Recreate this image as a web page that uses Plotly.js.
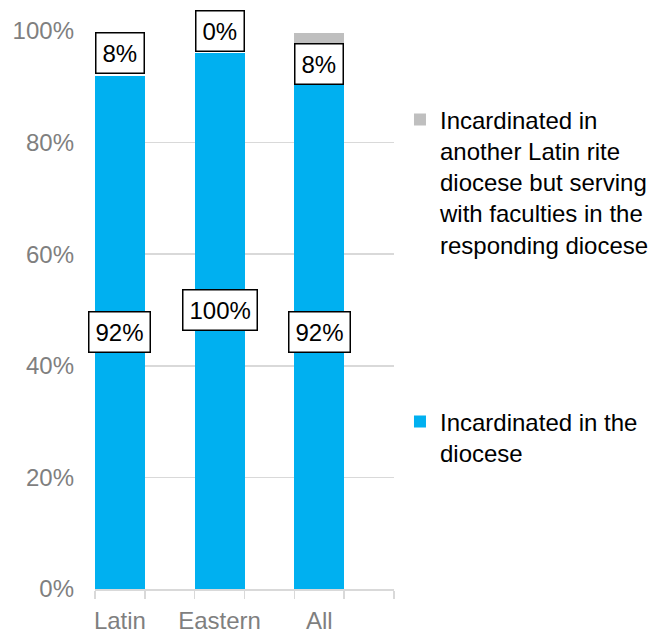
<!DOCTYPE html>
<html>
<head>
<meta charset="utf-8">
<script src="https://cdn.plot.ly/plotly-3.0.1.min.js"></script>
<style>html,body{margin:0;padding:0;background:#fff;}#chart{width:667px;height:637px;}</style>
</head>
<body>
<div id="chart"></div>
<script>
// ---- data ----
const categories = ['Latin', 'Eastern', 'All'];
const incardinated = [92, 96, 92];          // blue segment heights as drawn
const otherLatin = [0, 0, 7.7];             // grey segment heights as drawn
const incardinatedLabels = [92, 100, 92];   // data label values (%)
const otherLatinLabels = [8, 0, 8];         // data label values (%)
const seriesNames = [
  'Incardinated in the<br>diocese',
  'Incardinated in<br>another Latin rite<br>diocese but serving<br>with faculties in the<br>responding diocese'
];

const FONT = 'Liberation Sans, Arial, sans-serif';
const xs = categories.map((c, i) => i * 2);

const traces = [
  {type: 'bar', x: xs, y: incardinated, name: seriesNames[0], width: 1,
   marker: {color: '#00B0F0'}, legendgroup: 'a', legendrank: 2, hoverinfo: 'skip'},
  {type: 'bar', x: xs, y: otherLatin, name: seriesNames[1], width: 1,
   marker: {color: '#BFBFBF'}, legendgroup: 'b', legendrank: 1, hoverinfo: 'skip'}
];

const annotations = [];
const labelStyle = {showarrow: false, xref: 'x', yref: 'y',
  font: {family: FONT, size: 24, color: '#000'},
  bgcolor: '#fff', bordercolor: '#000', borderwidth: 1.5, borderpad: 6};
xs.forEach((x, i) => {
  annotations.push(Object.assign({}, labelStyle, {
    x: x, y: incardinatedLabels[i] / 2, text: incardinatedLabels[i] + '%'}));
  annotations.push(Object.assign({}, labelStyle, {
    x: x, y: incardinatedLabels[i] + otherLatinLabels[i] / 2,
    text: otherLatinLabels[i] + '%', yshift: i === 2 ? -11 : 0}));
});

const boundaries = [];
for (let v = -0.5; v <= 5.5; v += 1) boundaries.push(v);

const layout = {
  width: 667, height: 637,
  margin: {l: 95, r: 273, t: 31, b: 48},
  paper_bgcolor: '#fff', plot_bgcolor: '#fff',
  barmode: 'stack', bargap: 0,
  font: {family: FONT, size: 24, color: '#7F7F7F'},
  xaxis: {
    range: [-0.5, 5.5], tickvals: xs, ticktext: categories, ticks: '',
    showgrid: false, zeroline: false, showline: true, linecolor: '#D9D9D9', linewidth: 1.5,
    tickfont: {family: FONT, size: 24, color: '#7F7F7F'}, ticklabelstandoff: 10,
    minor: {tickvals: boundaries, ticks: 'outside', ticklen: 8, tickcolor: '#D9D9D9', tickwidth: 1.5, showgrid: false}
  },
  yaxis: {
    range: [0, 100], dtick: 20, ticksuffix: '%', showgrid: true, gridcolor: '#D9D9D9', gridwidth: 1.5,
    zeroline: false, showline: false, ticks: '',
    tickfont: {family: FONT, size: 24, color: '#7F7F7F'}, ticklabelstandoff: 20
  },
  showlegend: true,
  legend: {
    x: 1.02, xanchor: 'left', y: 0.881, yanchor: 'top',
    traceorder: 'grouped', tracegroupgap: 143, valign: 'top',
    font: {family: FONT, size: 24, color: '#000'}, bgcolor: 'rgba(0,0,0,0)'
  },
  annotations: annotations
};

Plotly.newPlot('chart', traces, layout, {displayModeBar: false, staticPlot: true});
</script>
</body>
</html>
